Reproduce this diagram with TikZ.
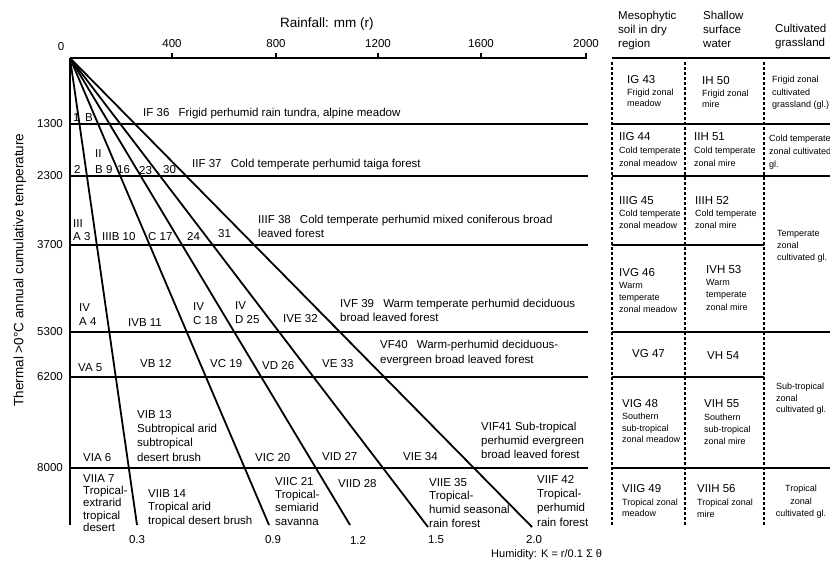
\documentclass[tikz,border=0pt]{standalone}
\usepackage{fontspec}
\setmainfont{Liberation Sans}
\begin{document}
\begin{tikzpicture}[x=1pt,y=-1pt,
 lab/.style={font=\fontsize{11.5}{#1}\selectfont,align=left,anchor=north west,inner sep=0pt},
 lab/.default=13.5,
 sm/.style={font=\fontsize{9}{#1}\selectfont,align=left,anchor=north west,inner sep=0pt},
 sm/.default=12,
 num/.style={font=\fontsize{11.5}{13.5}\selectfont,inner sep=0pt},
 ttl/.style={font=\fontsize{13.5}{16}\selectfont,inner sep=0pt},
 axisline/.style={line width=2.6pt},
 level/.style={line width=2.5pt},
 ray/.style={line width=1.8pt},
 dotcol/.style={line width=2pt,dash pattern=on 2.5pt off 2.5pt},
 tickmark/.style={line width=1.6pt}]
\useasboundingbox (0,0) rectangle (830,562);
\fill[white] (0,0) rectangle (830,562);

% ---------- axes ----------
\coordinate (O) at (70,58);
\coordinate (Xend) at (587,58);
\coordinate (Yend) at (70,525);
\draw[axisline] (O) -- (Xend);
\draw[axisline] (O) -- (Yend);
\foreach \n/\x/\t in {t4/172/400, t8/276/800, t12/378/1200, t16/481/1600, t20/586/2000}{
  \coordinate (\n a) at (\x,58);
  \coordinate (\n b) at (\x,53);
  \draw[tickmark] (\n a) -- (\n b);
  \node[num] (\n lab) at (\x,44) {\t};
}
\node[num] (t0lab) at (61,47) {0};
\node[ttl,anchor=west] (xtitle) at (280,24) {Rainfall: mm (r)};
\node[ttl,rotate=90] (ytitle) at (20,270) {Thermal >0°C annual cumulative temperature};
\node[font=\fontsize{11}{13}\selectfont,inner sep=0pt,anchor=west] (ktitle) at (491,555) {Humidity: K = r/0.1 Σ θ};

% ---------- levels ----------
\foreach \n/\y/\t in {l1/124/1300, l2/176/2300, l3/245/3700, l4/332/5300, l5/377/6200, l6/468/8000}{
  \coordinate (\n a) at (70,\y);
  \coordinate (\n b) at (588,\y);
  \draw[level] (\n a) -- (\n b);
  \node[num,anchor=east] (\n lab) at (63,\y) {\t};
}

% ---------- rays ----------
\foreach \n/\x/\y/\k/\lx in {r1/137/525/0.3/137, r2/269/525/0.9/273, r3/350/525/1.2/358, r4/428/527/1.5/436, r5/532/527/2.0/534}{
  \coordinate (\n) at (\x,\y);
  \draw[ray] (O) -- (\n);
  \node[num] (\n lab) at (\lx,540) {\k};
}

% ---------- chart labels ----------
\node[lab] (a1) at (73,113) {1};
\node[lab] (b1) at (85,113) {B};
\node[lab] (f1) at (143,108) {IF 36\hspace{0.8em}Frigid perhumid rain tundra, alpine meadow};

\node[lab] (b2h) at (95,149) {II};
\node[lab] (a2) at (74,165) {2};
\node[lab] (b2) at (95,165) {B 9};
\node[lab] (c2) at (117,165) {16};
\node[lab] (d2) at (139,166) {23};
\node[lab] (e2) at (163,165) {30};
\node[lab] (f2) at (192,159) {IIF 37\hspace{0.8em}Cold temperate perhumid taiga forest};

\node[lab=13] (a3) at (73,219) {III\\A 3};
\node[lab] (b3) at (102,232) {IIIB 10};
\node[lab] (c3) at (148,232) {C 17};
\node[lab] (d3) at (187,232) {24};
\node[lab] (e3) at (218,229) {31};
\node[lab=14] (f3) at (258,215) {IIIF 38\hspace{0.8em}Cold temperate perhumid mixed coniferous broad\\leaved forest};

\node[lab=14.5] (a4) at (79,303) {IV\\A 4};
\node[lab] (b4) at (128,318) {IVB 11};
\node[lab=14] (c4) at (193,302) {IV\\C 18};
\node[lab=14] (d4) at (235,301) {IV\\D 25};
\node[lab] (e4) at (283,314) {IVE 32};
\node[lab=13.5] (f4) at (340,299) {IVF 39\hspace{0.8em}Warm temperate perhumid deciduous\\broad leaved forest};

\node[lab] (a5) at (78,363) {VA 5};
\node[lab] (b5) at (140,359) {VB 12};
\node[lab] (c5) at (210,359) {VC 19};
\node[lab] (d5) at (262,361) {VD 26};
\node[lab] (e5) at (322,359) {VE 33};
\node[lab=15] (f5) at (380,340) {VF40\hspace{0.8em}Warm-perhumid deciduous-\\evergreen broad leaved forest};

\node[lab] (a6) at (83,453) {VIA 6};
\node[lab=14.3] (b6) at (137,410) {VIB 13\\Subtropical arid\\subtropical\\desert brush};
\node[lab] (c6) at (255,453) {VIC 20};
\node[lab] (d6) at (322,452) {VID 27};
\node[lab] (e6) at (403,452) {VIE 34};
\node[lab=14] (f6) at (481,422) {VIF41 Sub-tropical\\perhumid evergreen\\broad leaved forest};

\node[lab=12.3] (a7) at (83,474) {VIIA 7\\Tropical-\\extrarid\\tropical\\desert};
\node[lab=13.5] (b7) at (148,489) {VIIB 14\\Tropical arid\\tropical desert brush};
\node[lab=13.3] (c7) at (275,477) {VIIC 21\\Tropical-\\semiarid\\savanna};
\node[lab] (d7) at (338,479) {VIID 28};
\node[lab=13.7] (e7) at (429,478) {VIIE 35\\Tropical-\\humid seasonal\\rain forest};
\node[lab=14.3] (f7) at (537,475) {VIIF 42\\Tropical-\\perhumid\\rain forest};

% ---------- table ----------
\foreach \n/\y/\xe in {h0/58/831, h1/124/831, h2/176/831, h3/245/764, h4/332/831, h5/377/764, h6/468/831}{
  \coordinate (\n a) at (612,\y);
  \coordinate (\n b) at (\xe,\y);
  \draw[level] (\n a) -- (\n b);
}
\foreach \n/\x in {v1/612, v2/685, v3/764}{
  \coordinate (\n a) at (\x,62);
  \coordinate (\n b) at (\x,525);
  \draw[dotcol] (\n a) -- (\n b);
}
\node[lab=14] (hg) at (618,11) {Mesophytic\\soil in dry\\region};
\node[lab=14] (hh) at (703,11) {Shallow\\surface\\water};
\node[lab=14] (hc) at (775,24) {Cultivated\\grassland};

\node[lab] (g1) at (627,75) {IG 43};
\node[sm=11] (g1t) at (627,88.8) {Frigid zonal\\meadow};
\node[lab] (i1) at (702,76) {IH 50};
\node[sm=11] (i1t) at (702,89.8) {Frigid zonal\\mire};
\node[sm=12.5] (k1t) at (772,75.8) {Frigid zonal\\cultivated\\grassland (gl.)};

\node[lab] (g2) at (619,132) {IIG 44};
\node[sm=13] (g2t) at (619,146.8) {Cold temperate\\zonal meadow};
\node[lab] (i2) at (694,132) {IIH 51};
\node[sm=13] (i2t) at (694,146.8) {Cold temperate\\zonal mire};
\node[sm=13] (k2t) at (769,134.8) {Cold temperate\\zonal cultivated\\gl.};

\node[lab] (g3) at (619,196) {IIIG 45};
\node[sm=11.5] (g3t) at (619,209.8) {Cold temperate\\zonal meadow};
\node[lab] (i3) at (695,196) {IIIH 52};
\node[sm=12] (i3t) at (695,209.8) {Cold temperate\\zonal mire};
\node[sm=12] (k3t) at (777,229.8) {Temperate\\zonal\\cultivated gl.};

\node[lab] (g4) at (619,268) {IVG 46};
\node[sm=12] (g4t) at (619,281.8) {Warm\\temperate\\zonal meadow};
\node[lab] (i4) at (706,265) {IVH 53};
\node[sm=12.5] (i4t) at (706,278.8) {Warm\\temperate\\zonal mire};

\node[lab] (g5) at (632,349) {VG 47};
\node[lab] (i5) at (707,351) {VH 54};

\node[lab] (g6) at (622,399) {VIG 48};
\node[sm=11.5] (g6t) at (622,412.8) {Southern\\sub-tropical\\zonal meadow};
\node[lab] (i6) at (704,399) {VIH 55};
\node[sm=12] (i6t) at (704,413.8) {Southern\\sub-tropical\\zonal mire};
\node[sm=11.5] (k6t) at (776,382.8) {Sub-tropical\\zonal\\cultivated gl.};

\node[lab] (g7) at (622,484) {VIIG 49};
\node[sm=11] (g7t) at (622,498.8) {Tropical zonal\\meadow};
\node[lab] (i7) at (697,484) {VIIH 56};
\node[sm=12] (i7t) at (697,498.8) {Tropical zonal\\mire};
\node[sm=12.5,align=center,anchor=north] (k7t) at (801,484.8) {Tropical\\zonal\\cultivated gl.};
\end{tikzpicture}
\end{document}
